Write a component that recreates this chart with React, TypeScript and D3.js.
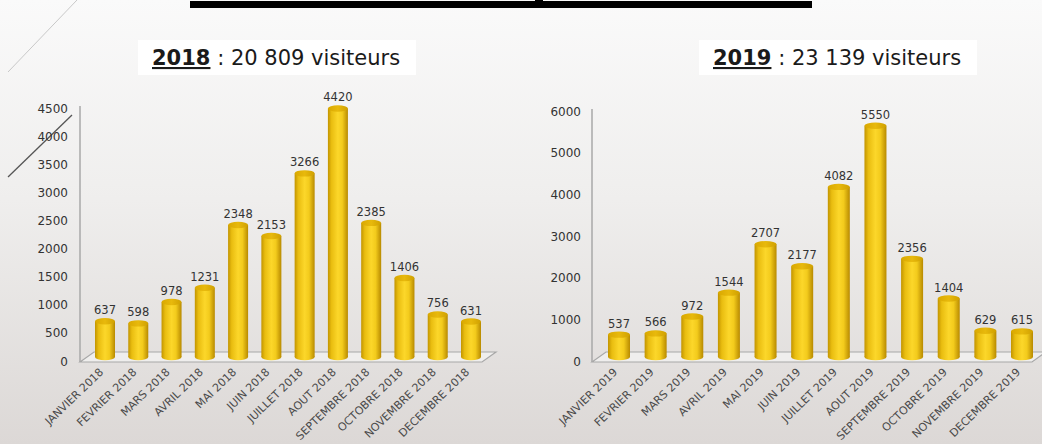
import React from 'react';
import * as d3 from 'd3';

const months2018 = ['JANVIER 2018', 'FEVRIER 2018', 'MARS 2018', 'AVRIL 2018', 'MAI 2018', 'JUIN 2018', 'JUILLET 2018', 'AOUT 2018', 'SEPTEMBRE 2018', 'OCTOBRE 2018', 'NOVEMBRE 2018', 'DECEMBRE 2018'];
const visitors2018 = [637, 598, 978, 1231, 2348, 2153, 3266, 4420, 2385, 1406, 756, 631];
const ticks2018 = [0, 500, 1000, 1500, 2000, 2500, 3000, 3500, 4000, 4500];

const months2019 = ['JANVIER 2019', 'FEVRIER 2019', 'MARS 2019', 'AVRIL 2019', 'MAI 2019', 'JUIN 2019', 'JUILLET 2019', 'AOUT 2019', 'SEPTEMBRE 2019', 'OCTOBRE 2019', 'NOVEMBRE 2019', 'DECEMBRE 2019'];
const visitors2019 = [537, 566, 972, 1544, 2707, 2177, 4082, 5550, 2356, 1404, 629, 615];
const ticks2019 = [0, 1000, 2000, 3000, 4000, 5000, 6000];

const years = ['2018', '2019'];
const totals = ['20 809', '23 139'];

const W = 1042;
const H = 444;
const FONT = "'DejaVu Sans', sans-serif";

type ChartProps = {
  months: string[];
  values: number[];
  ticks: number[];
  yMax: number;
  plotH: number;
  axisX: number;
  xFirst: number;
  xLast: number;
  labelRight: number;
  floorRight: number;
  barW: number;
  id: string;
};

function Chart(p: ChartProps) {
  const base = 357;
  const y = d3.scaleLinear().domain([0, p.yMax]).range([base, base - p.plotH]);
  const x = d3.scalePoint<string>().domain(p.months).range([p.xFirst, p.xLast]);
  const front = 362;
  const back = 352;
  const depth = 14;
  const floorPts = [
    [p.axisX, front],
    [p.axisX + depth, back],
    [p.floorRight + depth, back],
    [p.floorRight, front],
  ];
  const rx = p.barW / 2;
  const ry = 3.2;
  return (
    <g>
      <line x1={p.axisX} x2={p.axisX} y1={y(p.yMax) + 2} y2={front} stroke="#a8a8a8" strokeWidth={1.5} />
      {p.ticks.map((t) => (
        <text key={t} x={p.labelRight} y={y(t) + 5} textAnchor="end" dominantBaseline="middle"
          fontFamily={FONT} fontSize={12} fill="#333">{t}</text>
      ))}
      <polygon points={floorPts.map((q) => q.join(',')).join(' ')} fill="#efeeed" stroke="#a8a8a8" strokeWidth={1.2} />
      {p.months.map((m, i) => {
        const cx = x(m) as number;
        const v = p.values[i];
        const top = y(v);
        return (
          <g key={m}>
            <rect x={cx - rx} y={top} width={p.barW} height={base - top} fill={`url(#barGrad${p.id})`} />
            <ellipse cx={cx} cy={base} rx={rx} ry={ry} fill={`url(#barGrad${p.id})`} />
            <ellipse cx={cx} cy={top} rx={rx} ry={ry} fill={`url(#capGrad${p.id})`} />
            <text x={cx} y={top - 7} textAnchor="middle" fontFamily={FONT} fontSize={11.5} fill="#333">{v}</text>
            <text transform={`translate(${cx - 1},${373}) rotate(-44)`} textAnchor="end"
              fontFamily={FONT} fontSize={11} fill="#4a4a4a">{m}</text>
          </g>
        );
      })}
      <defs>
        <linearGradient id={`barGrad${p.id}`} x1="0" x2="1" y1="0" y2="0">
          <stop offset="0%" stopColor="#c29400" />
          <stop offset="18%" stopColor="#e9bd10" />
          <stop offset="50%" stopColor="#fcd72a" />
          <stop offset="72%" stopColor="#f3cb1c" />
          <stop offset="100%" stopColor="#b88a00" />
        </linearGradient>
        <linearGradient id={`capGrad${p.id}`} x1="0" x2="1" y1="0" y2="0">
          <stop offset="0%" stopColor="#d9a800" />
          <stop offset="50%" stopColor="#e8b90c" />
          <stop offset="100%" stopColor="#cfa000" />
        </linearGradient>
      </defs>
    </g>
  );
}

function Title({ x, year, total }: { x: number; year: string; total: string }) {
  return (
    <g>
      <rect x={x - 14} y={40} width={278} height={35} fill="#ffffff" />
      <text x={x} y={65} fontFamily={FONT} fontSize={21} fill="#1a1a1a">
        <tspan fontWeight="bold" textDecoration="underline">{year}</tspan>
        <tspan> : {total} visiteurs</tspan>
      </text>
    </g>
  );
}

export default function App() {
  return (
    <svg width={W} height={H} viewBox={`0 0 ${W} ${H}`} style={{ position: 'absolute', left: 0, top: 0 }}>
      <defs>
        <linearGradient id="bg" x1="0" x2="0" y1="0" y2="1">
          <stop offset="0%" stopColor="#fafafa" />
          <stop offset="45%" stopColor="#efeeed" />
          <stop offset="100%" stopColor="#dcd8d6" />
        </linearGradient>
      </defs>
      <rect x={0} y={0} width={W} height={H} fill="url(#bg)" />
      <line x1={77} y1={0} x2={8} y2={72} stroke="#c8c8c8" strokeWidth={1} />
      <line x1={72} y1={115} x2={8} y2={177} stroke="#555" strokeWidth={1.3} />
      <rect x={190} y={1} width={622} height={7} fill="#000" />
      <rect x={535} y={0} width={8} height={8} fill="#000" />
      <Title x={152} year={years[0]} total={totals[0]} />
      <Title x={713} year={years[1]} total={totals[1]} />
      <Chart id="a" months={months2018} values={visitors2018} ticks={ticks2018} yMax={4500} plotH={253}
        axisX={80} xFirst={105} xLast={471} labelRight={68} floorRight={482} barW={20} />
      <Chart id="b" months={months2019} values={visitors2019} ticks={ticks2019} yMax={6000} plotH={250}
        axisX={592} xFirst={619} xLast={1022} labelRight={581} floorRight={1032} barW={22} />
    </svg>
  );
}
